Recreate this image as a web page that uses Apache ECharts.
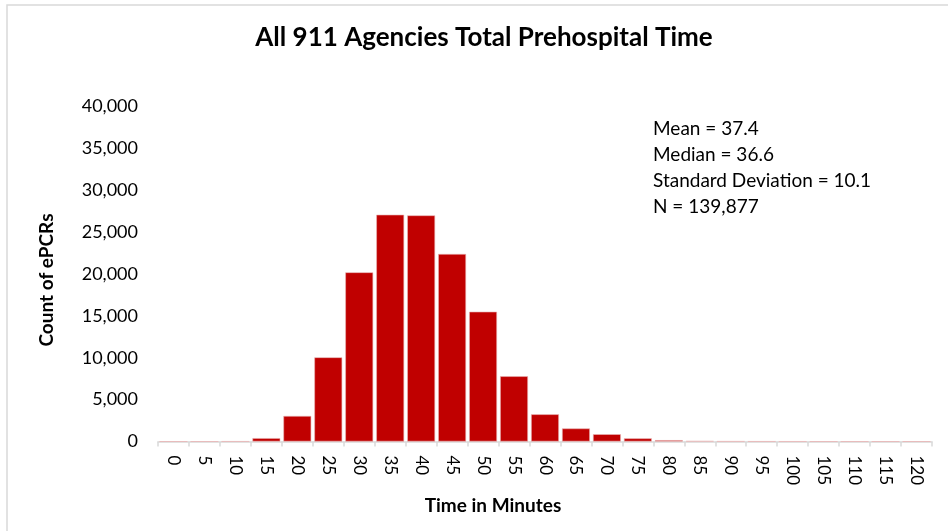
<!DOCTYPE html>
<html>
<head>
<meta charset="utf-8">
<script src="https://cdn.jsdelivr.net/npm/echarts@6/dist/echarts.min.js"></script>
<style>html,body{margin:0;padding:0;background:#fff;}#chart{width:948px;height:531px;}</style>
</head>
<body>
<div id="chart"></div>
<script>
var categories = ['0','5','10','15','20','25','30','35','40','45','50','55','60','65','70','75','80','85','90','95','100','105','110','115','120'];
var counts = [0, 0, 10, 400, 3050, 10050, 20200, 27080, 27000, 22390, 15500, 7790, 3250, 1560, 870, 380, 160, 50, 20, 10, 5, 0, 0, 0, 0];
var yTicks = { min: 0, max: 40000, interval: 5000 };
var statsLines = ['Mean = 37.4', 'Median = 36.6', 'Standard Deviation = 10.1', 'N = 139,877'];
var titleText = 'All 911 Agencies Total Prehospital Time';
var xName = 'Time in Minutes';
var yName = 'Count of ePCRs';

var FONT = 'Lato';
var chart = echarts.init(document.getElementById('chart'), null, { renderer: 'canvas' });

var graphics = [
  { type: 'rect', shape: { x: 7, y: 5, width: 960, height: 560 }, style: { fill: 'none', stroke: '#d9d9d9', lineWidth: 1.5 }, silent: true },
  { type: 'text', x: 484, y: 38, style: { text: titleText, font: 'bold 26px ' + FONT, fill: '#000', textAlign: 'center', textVerticalAlign: 'middle' } },
  { type: 'text', x: 493, y: 506, style: { text: xName, font: 'bold 19px ' + FONT, fill: '#000', textAlign: 'center', textVerticalAlign: 'middle' } },
  { type: 'text', x: 47, y: 280, rotation: Math.PI / 2, style: { text: yName, font: 'bold 19px ' + FONT, fill: '#000', textAlign: 'center', textVerticalAlign: 'middle' } }
];
statsLines.forEach(function (t, i) {
  graphics.push({ type: 'text', x: 653, y: 129 + i * 26, style: { text: t, font: '19px ' + FONT, fill: '#000', textAlign: 'left', textVerticalAlign: 'middle' } });
});

chart.setOption({
  backgroundColor: '#fff',
  animation: false,
  grid: { left: 158, right: 16, top: 106.5, bottom: 89.5, containLabel: false },
  xAxis: {
    type: 'category',
    data: categories,
    boundaryGap: true,
    axisLine: { lineStyle: { color: '#d9d9d9', width: 1.5 } },
    axisTick: { show: true, length: 5, lineStyle: { color: '#d9d9d9', width: 1.5 } },
    axisLabel: { rotate: -90, margin: 14, color: '#000', fontFamily: FONT, fontSize: 17, interval: 0 }
  },
  yAxis: {
    type: 'value',
    min: yTicks.min, max: yTicks.max, interval: yTicks.interval,
    axisLine: { show: false },
    axisTick: { show: false },
    splitLine: { show: false },
    axisLabel: {
      margin: 20, color: '#000', fontFamily: FONT, fontSize: 18,
      formatter: function (v) { return v.toLocaleString('en-US'); }
    }
  },
  series: [{
    type: 'bar',
    data: counts,
    barCategoryGap: '10%',
    itemStyle: { color: '#C00000', borderColor: '#e9b5b5', borderWidth: 0.6 }
  }],
  graphic: graphics
});
</script>
</body>
</html>
